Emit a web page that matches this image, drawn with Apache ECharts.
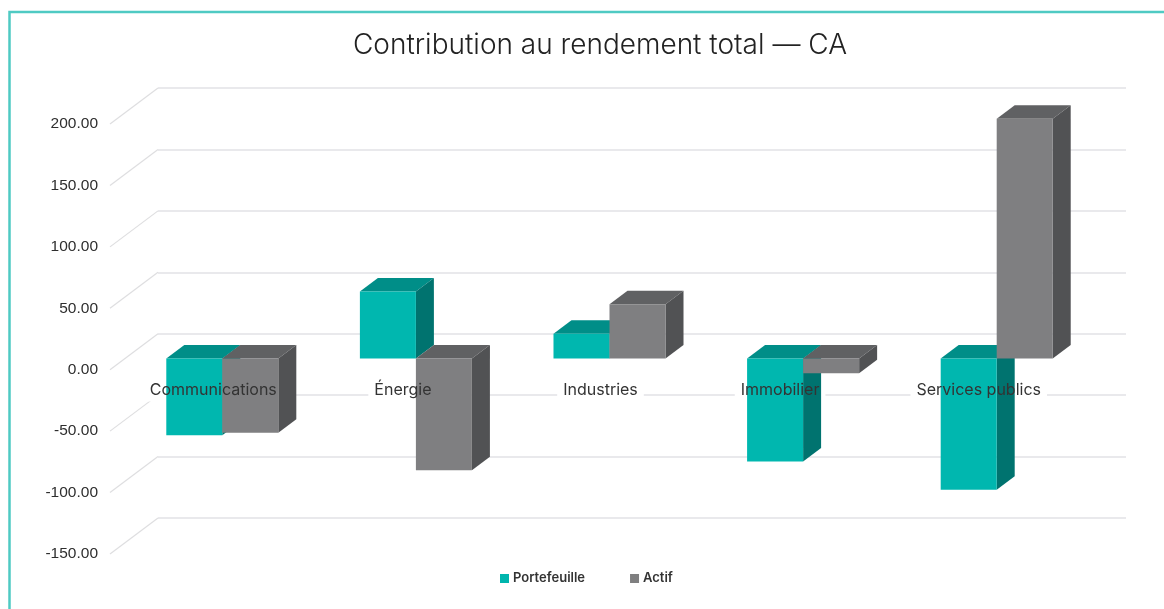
<!DOCTYPE html>
<html><head><meta charset="utf-8">
<style>html,body{margin:0;padding:0;background:#fff}#c{width:1164px;height:609px}</style>
<script src="https://cdn.jsdelivr.net/npm/echarts@6/dist/echarts.min.js"></script>
</head><body><div id="c"></div>
<script>
const categories = ['Communications', 'Énergie', 'Industries', 'Immobilier', 'Services publics'];
const portefeuille = [-62.5, 54.5, 20, -84, -107];
const actif = [-60.5, -91, 44, -12, 195];
const yTicks = [-150, -100, -50, 0, 50, 100, 150, 200];
const titleText = 'Contribution au rendement total — CA';

const DX = 18, DY = -13.5;
const labelNudge = [-9, -13, -9, -23, -18];
const LABEL_FONT = 'Inter';
const LABEL_SIZE = 16;
const chart = echarts.init(document.getElementById('c'), null, {renderer: 'canvas'});

const richLabels = {};
labelNudge.forEach((n, i) => { richLabels['c' + i] = {padding: [0, -2 * n, 0, 0], fontFamily: LABEL_FONT, fontSize: LABEL_SIZE, color: '#333'}; });

function box3d(front, top, side) {
  return function (params, api) {
    const i = api.value(0), v = api.value(1);
    const mid = api.coord([i, 0]);
    const band = api.size([1, 0])[0];
    const w = band * 0.2893;
    const seriesLeft = params.seriesName === 'Portefeuille';
    const x0 = seriesLeft ? mid[0] - w : mid[0];
    const x1 = x0 + w;
    const yA = api.coord([i, Math.max(v, 0)])[1];
    const yB = api.coord([i, Math.min(v, 0)])[1];
    return {
      type: 'group',
      children: [
        {type: 'polygon', shape: {points: [[x0, yA], [x0 + DX, yA + DY], [x1 + DX, yA + DY], [x1, yA]]}, style: {fill: top}},
        {type: 'polygon', shape: {points: [[x1, yA], [x1 + DX, yA + DY], [x1 + DX, yB + DY], [x1, yB]]}, style: {fill: side}},
        {type: 'rect', shape: {x: x0, y: yA, width: w, height: yB - yA}, style: {fill: front}}
      ]
    };
  };
}

chart.setOption({
  animation: false,
  backgroundColor: '#fff',
  title: {
    text: titleText, left: 595, top: 27, textAlign: 'center',
    textStyle: {fontFamily: 'Inter', fontSize: 28, fontWeight: 300, color: '#222'}
  },
  legend: {
    data: ['Portefeuille', 'Actif'], left: 495, top: 567, itemWidth: 9, itemHeight: 9, itemGap: 45,
    icon: 'rect',
    textStyle: {fontFamily: 'Inter', fontSize: 13, fontWeight: 600, color: '#333', padding: [0, 0, 0, -1]}
  },
  graphic: [{
    type: 'rect', silent: true, z: -1,
    shape: {x: 9.5, y: 12, width: 1300, height: 800},
    style: {fill: 'none', stroke: '#4fcac3', lineWidth: 2.5}
  }],
  grid: [
    {left: 158, top: 88, width: 968, height: 430},
    {left: 110, top: 124, width: 968, height: 430},
    {left: 125.5, top: 112.7, width: 968, height: 430}
  ],
  xAxis: [
    {gridIndex: 0, type: 'value', min: 0, max: 1, show: false},
    {gridIndex: 1, type: 'value', min: 0, max: 1, show: false},
    {gridIndex: 2, type: 'category', data: categories, z: 10, position: 'bottom', offset: -184.3,
      axisLine: {show: false, onZero: false}, axisTick: {show: false},
      axisLabel: {margin: 24, interval: 0, rich: richLabels,
        formatter: (v, i) => '{c' + i + '|' + v + '}'}}
  ],
  yAxis: [
    {gridIndex: 0, type: 'value', min: -150, max: 200, interval: 50,
      axisLine: {show: false}, axisTick: {show: false}, axisLabel: {show: false},
      splitLine: {show: true, lineStyle: {color: '#e2e2e6', width: 1.5}}},
    {gridIndex: 1, type: 'value', min: -150, max: 200, interval: 50,
      axisLine: {show: false}, axisTick: {show: false}, splitLine: {show: false},
      axisLabel: {margin: 12, fontFamily: 'Liberation Sans', fontSize: 15.5, color: '#2e2e2e',
        formatter: v => v.toFixed(2)}},
    {gridIndex: 2, type: 'value', min: -150, max: 200, interval: 50, show: false, splitLine: {show: false}}
  ],
  series: [
    {
      name: 'diagonales', type: 'custom', xAxisIndex: 1, yAxisIndex: 1, silent: true, z: 1,
      data: yTicks.map(t => [0, t]), encode: {x: 0, y: 1},
      renderItem: function (params, api) {
        const p = api.coord([api.value(0), api.value(1)]);
        return {type: 'line', shape: {x1: p[0], y1: p[1], x2: p[0] + 48, y2: p[1] - 36},
          style: {stroke: '#dedee0', lineWidth: 1.2}};
      }
    },
    {
      name: 'masque', type: 'custom', xAxisIndex: 2, yAxisIndex: 2, silent: true, z: 2,
      data: categories.map((c, i) => [i, 0]), encode: {x: 0, y: 1},
      renderItem: function (params, api) {
        const p = api.coord([api.value(0), 0]);
        return {type: 'text', x: p[0] + labelNudge[params.dataIndex], y: p[1] + 33,
          style: {text: categories[params.dataIndex], fill: '#fff', backgroundColor: '#fff', padding: [2, 6],
            fontFamily: LABEL_FONT, fontSize: LABEL_SIZE, align: 'center', verticalAlign: 'middle'}};
      }
    },
    {
      name: 'Portefeuille', type: 'custom', xAxisIndex: 2, yAxisIndex: 2, z: 3,
      itemStyle: {color: '#00b5ad'},
      data: portefeuille.map((v, i) => [i, v]), encode: {x: 0, y: 1},
      renderItem: box3d('#00b7af', '#008e88', '#00736f')
    },
    {
      name: 'Actif', type: 'custom', xAxisIndex: 2, yAxisIndex: 2, z: 3,
      itemStyle: {color: '#7f7f80'},
      data: actif.map((v, i) => [i, v]), encode: {x: 0, y: 1},
      renderItem: box3d('#7f7f81', '#606163', '#515254')
    }
  ]
});
</script></body></html>
